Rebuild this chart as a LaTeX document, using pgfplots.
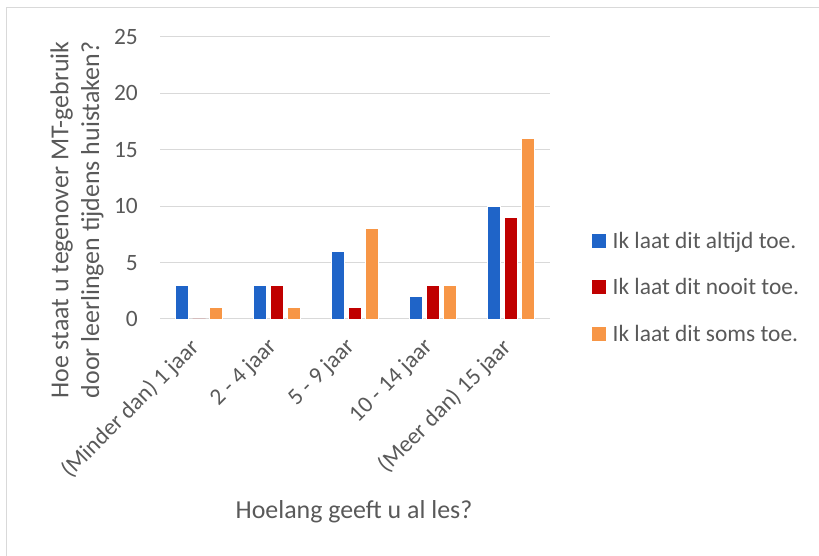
\documentclass[border=0pt]{standalone}
\usepackage{pgfplots}
\pgfplotsset{compat=1.18}
\usepackage{fontspec}
\setmainfont{Carlito}

\definecolor{txtgray}{HTML}{595959}
\definecolor{gridgray}{HTML}{D9D9D9}
\definecolor{barblue}{HTML}{1F64C8}
\definecolor{barred}{HTML}{C00000}
\definecolor{barorange}{HTML}{F79646}

\newcommand{\ticksize}{\fontsize{23.5}{27}\selectfont}
\newcommand{\titlesize}{\fontsize{26}{31}\selectfont}

\begin{document}
\begin{tikzpicture}[x=1bp,y=1bp]
\useasboundingbox (0,0) rectangle (819,556);
% chart frame (left and top edges)
\draw[gridgray, line width=1.5bp] (6.5,0) -- (6.5,548.5) -- (819,548.5);

\begin{axis}[
  at={(160bp,237bp)}, anchor=south west,
  scale only axis,
  width=390bp, height=282bp,
  ybar=4bp, bar width=13bp,
  xmin=-0.5, xmax=4.5,
  ymin=0, ymax=25,
  ytick={0,5,...,25},
  xtick={0,1,2,3,4},
  xticklabels={(Minder dan) 1 jaar, 2 - 4 jaar, 5 - 9 jaar, 10 - 14 jaar, (Meer dan) 15 jaar},
  major tick length=0pt,
  axis line style={draw=none},
  ymajorgrids,
  grid style={gridgray, line width=1bp},
  tick label style={txtgray, font=\ticksize},
  /pgf/number format/assume math mode=true,
  yticklabel style={inner sep=0pt, xshift=-22bp},
  xticklabel style={xshift=-11bp, yshift=-17bp, rotate=45, anchor=north east, inner sep=0pt},
  legend style={draw=none, fill=none, at={(1.108,0.31)}, anchor=north west,
    font=\ticksize, text=txtgray, row sep=29bp, inner sep=0pt,
    nodes={inner sep=0pt}},
  legend cell align=left,
  legend image code/.code={\fill[#1, draw=none] (0bp,-7bp) rectangle (14bp,7bp);
    \path (20bp,0bp);},
  every axis plot/.append style={draw=white, line width=0.6bp},
]
\addplot[fill=barblue] coordinates {(0,3) (1,3) (2,6) (3,2) (4,10)};
\addplot[fill=barred] coordinates {(0,0) (1,3) (2,1) (3,3) (4,9)};
\addplot[fill=barorange] coordinates {(0,1) (1,1) (2,8) (3,3) (4,16)};
\legend{Ik laat dit altijd toe., Ik laat dit nooit toe., Ik laat dit soms toe.}
\end{axis}

% axis titles
\node[txtgray, font=\titlesize, rotate=90, align=center, inner sep=0pt] at (77,336)
  {Hoe staat u tegenover MT-gebruik\\door leerlingen tijdens huistaken?};
\node[txtgray, font=\titlesize, inner sep=0pt] at (354,44) {Hoelang geeft u al les?};
\end{tikzpicture}
\end{document}
